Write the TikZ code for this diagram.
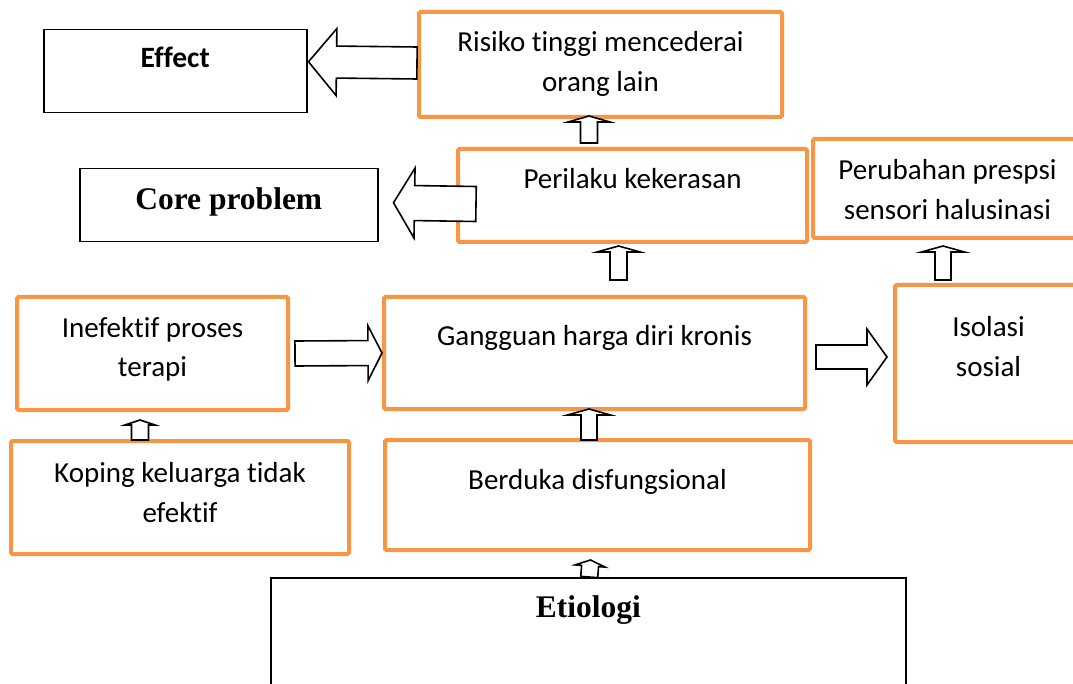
\documentclass[tikz,border=0pt]{standalone}
\usepackage{fontspec}
\setmainfont{Carlito}[Ligatures=NoCommon]
\newfontfamily\titlefont{Liberation Serif}
\usetikzlibrary{calc}

\definecolor{boxorange}{HTML}{F79646}

\tikzset{
  obox/.style={draw=boxorange, line width=4pt, rounded corners=1.5pt, inner sep=0pt,
    anchor=north west, font=\fontsize{29}{40}\selectfont},
  kbox/.style={draw=black, line width=1.5pt, inner sep=0pt, anchor=north west},
  fat/.style={draw=black, line width=1.6pt, fill=white, line join=miter},
}

% a box of fixed size whose text starts at the top, first baseline #3 below the top edge
\newcommand\cellbox[4]{\parbox[c][#2][t]{#1}{\centering\rule{0pt}{#3}#4}}

% outlined block arrow: tail centre, tip, half shaft width, half head width, head length
\newcommand\fatarrow[5]{%
  \coordinate (fa-neck) at ($(#2)!#5!(#1)$);
  \draw[fat] ($(#1)!#3!90:(#2)$) -- ($(fa-neck)!#3!90:(#2)$) -- ($(fa-neck)!#4!90:(#2)$)
    -- (#2) -- ($(fa-neck)!#4!-90:(#2)$) -- ($(fa-neck)!#3!-90:(#2)$)
    -- ($(#1)!#3!-90:(#2)$) -- cycle;}

\begin{document}
\begin{tikzpicture}[x=1pt,y=-1pt]
\useasboundingbox (0,0) rectangle (1073,684);
\clip (0,0) rectangle (1073,684);
\fill[white] (0,0) rectangle (1073,684);

% labels on the left
\node[kbox, font=\fontsize{29.5}{40}\selectfont\bfseries] (effect) at (43,29)
  {\cellbox{263pt}{83pt}{38pt}{Effect}};
\node[kbox, font=\titlefont\bfseries\fontsize{31.5}{40}\selectfont] (core) at (79,168)
  {\cellbox{298pt}{73pt}{41pt}{Core problem}};

% problem boxes
\node[obox] (risk) at (417,10)
  {\cellbox{363pt}{105pt}{40pt}{Risiko tinggi mencederai\\orang lain}};
\node[obox] (beh) at (456,147)
  {\cellbox{349pt}{93pt}{40pt}{Perilaku kekerasan}};
\node[obox] (perc) at (811,137)
  {\cellbox{269pt}{99pt}{41pt}{Perubahan prespsi\\sensori halusinasi}};
\node[obox] (ther) at (15,295)
  {\cellbox{271pt}{113pt}{40pt}{Inefektif proses\\terapi}};
\node[obox] (esteem) at (382,295)
  {\cellbox{421pt}{112pt}{48pt}{Gangguan harga diri kronis}};
\node[obox] (isol) at (893,283)
  {\cellbox{187pt}{157pt}{52pt}{Isolasi\\sosial}};
\node[obox] (cope) at (9,439)
  {\cellbox{338pt}{113pt}{41pt}{Koping keluarga tidak\\efektif}};
\node[obox] (grief) at (383,438)
  {\cellbox{425pt}{110pt}{49pt}{Berduka disfungsional}};

% cause box
\node[kbox, font=\titlefont\bfseries\fontsize{31.5}{40}\selectfont] (etio) at (270,577)
  {\cellbox{635pt}{143pt}{40pt}{Etiologi}};

% arrow ends
\coordinate (a1s) at ($(risk.west)+(0,-1.5)$);
\coordinate (a1t) at ($(effect.east)+(1,-9.5)$);
\coordinate (a2s) at ($(beh.west)+(20,8.5)$);
\coordinate (a2t) at ($(core.east)+(15,-2.5)$);
\coordinate (a3s) at ($(ther.east)+(5,0)$);
\coordinate (a3t) at (esteem.west);
\coordinate (a4s) at ($(esteem.east)+(9,4)$);
\coordinate (a4t) at ($(isol.west)+(-6,-6.5)$);
\coordinate (a5s) at ($(beh.north)+(-43.5,-4)$);
\coordinate (a5t) at ($(risk.south)+(-11.5,-3)$);
\coordinate (a6s) at ($(esteem.north)+(24,-15)$);
\coordinate (a6t) at ($(beh.south)+(-14,2)$);
\coordinate (a7s) at ($(isol.north)+(-45.5,-3)$);
\coordinate (a7t) at ($(perc.south)+(-4.5,6)$);
\coordinate (a8s) at ($(cope.north)+(-40,1)$);
\coordinate (a8t) at ($(ther.south)+(-12.5,8)$);
\coordinate (a9s) at ($(grief.north)+(-8.5,2)$);
\coordinate (a9t) at ($(esteem.south)+(-5.5,-2)$);
\coordinate (a10s) at ($(etio.north)+(1,0)$);
\coordinate (a10t) at ($(grief.south)+(-7,8)$);

% block arrows
\fatarrow{a1s}{a1t}{16pt}{33.5pt}{28pt}
\fatarrow{a2s}{a2t}{17.5pt}{35pt}{21pt}
\fatarrow{a3s}{a3t}{12.5pt}{27.5pt}{14pt}
\fatarrow{a4s}{a4t}{12pt}{28pt}{20pt}
\fatarrow{a5s}{a5t}{8.5pt}{21pt}{6pt}
\fatarrow{a6s}{a6t}{8.5pt}{21.5pt}{6pt}
\fatarrow{a7s}{a7t}{8pt}{21.5pt}{6pt}
\fatarrow{a8s}{a8t}{8.5pt}{15pt}{5pt}
\fatarrow{a9s}{a9t}{8pt}{21.5pt}{6pt}
\fatarrow{a10s}{a10t}{8.5pt}{15pt}{6pt}
\end{tikzpicture}
\end{document}
